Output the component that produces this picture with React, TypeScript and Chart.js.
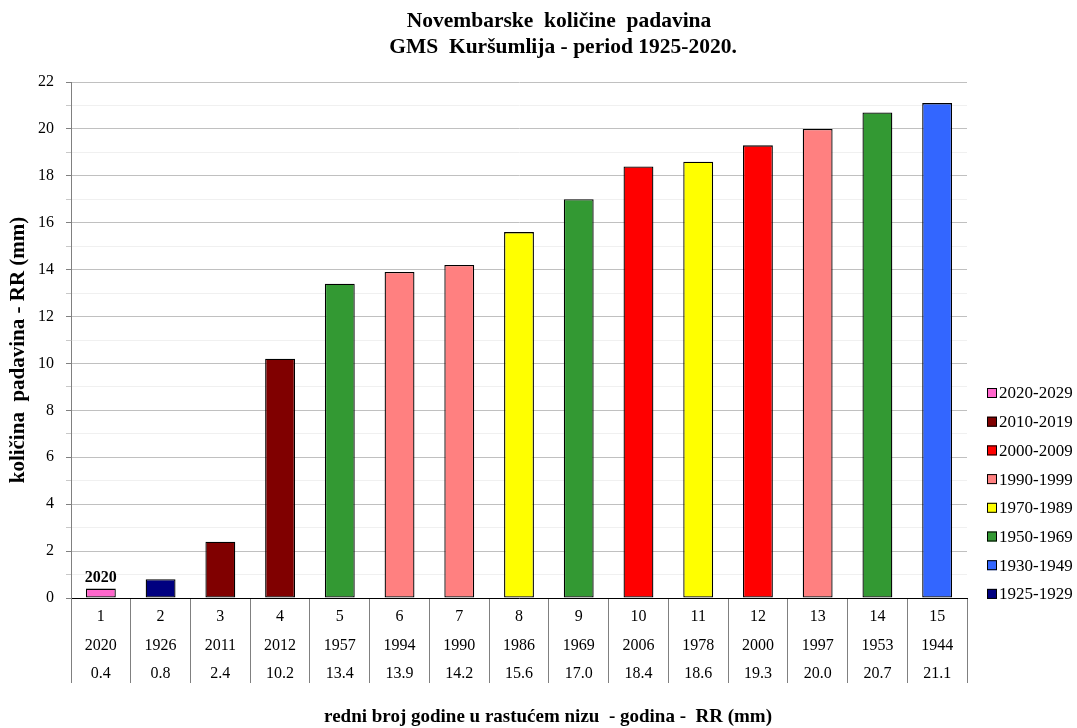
import React, { useEffect, useRef } from 'react';
import { Chart, registerables } from 'chart.js';

Chart.register(...registerables);

const ranks = ['1', '2', '3', '4', '5', '6', '7', '8', '9', '10', '11', '12', '13', '14', '15'];
const years = ['2020', '1926', '2011', '2012', '1957', '1994', '1990', '1986', '1969', '2006', '1978', '2000', '1997', '1953', '1944'];
const values = [0.4, 0.8, 2.4, 10.2, 13.4, 13.9, 14.2, 15.6, 17.0, 18.4, 18.6, 19.3, 20.0, 20.7, 21.1];
const valueLabels = ['0.4', '0.8', '2.4', '10.2', '13.4', '13.9', '14.2', '15.6', '17.0', '18.4', '18.6', '19.3', '20.0', '20.7', '21.1'];
const barGroups = ['2020-2029', '1925-1929', '2010-2019', '2010-2019', '1950-1969', '1990-1999', '1990-1999', '1970-1989', '1950-1969', '2000-2009', '1970-1989', '2000-2009', '1990-1999', '1950-1969', '1930-1949'];
const legendLabels = ['2020-2029', '2010-2019', '2000-2009', '1990-1999', '1970-1989', '1950-1969', '1930-1949', '1925-1929'];
const legendColors = ['#FF66CC', '#800000', '#FF0000', '#FF8080', '#FFFF00', '#339933', '#3366FF', '#000080'];
const titleLines = ['Novembarske  količine  padavina', 'GMS  Kuršumlija - period 1925-2020.'];
const yAxisTitle = 'količina  padavina - RR (mm)';
const xAxisTitle = 'redni broj godine u rastućem nizu  - godina -  RR (mm)';
const highlightLabel = '2020';
const highlightIndex = 0;

const FONT = '"Liberation Serif", "Times New Roman", serif';

export default function App() {
  const ref = useRef<HTMLCanvasElement | null>(null);

  useEffect(() => {
    document.body.style.margin = '0';
    const canvas = ref.current;
    if (!canvas) return;

    const barColors = barGroups.map((g) => legendColors[legendLabels.indexOf(g)]);

    const textPlugin = {
      id: 'texts',
      afterDraw(chart: any) {
        const ctx = chart.ctx;
        ctx.save();
        ctx.fillStyle = '#000';
        ctx.textAlign = 'center';
        ctx.textBaseline = 'middle';
        // title
        ctx.font = `bold 21.5px ${FONT}`;
        ctx.fillText(titleLines[0], 559, 21);
        ctx.fillText(titleLines[1], 563, 47);
        // x axis title
        ctx.font = `bold 19px ${FONT}`;
        ctx.fillText(xAxisTitle, 548, 717);
        // y axis title
        ctx.save();
        ctx.translate(19, 350);
        ctx.rotate(-Math.PI / 2);
        ctx.font = `bold 21px ${FONT}`;
        ctx.fillText(yAxisTitle, 0, 0);
        ctx.restore();
        // highlight label above first bar
        const xs = chart.scales.x;
        const ys = chart.scales.y;
        ctx.font = `bold 16px ${FONT}`;
        ctx.fillText(highlightLabel, xs.getPixelForValue(highlightIndex), ys.getPixelForValue(values[highlightIndex]) - 11);
        // legend
        ctx.font = `17px ${FONT}`;
        ctx.textAlign = 'left';
        const top = 393;
        const step = 28.7;
        legendLabels.forEach((lab, i) => {
          const cy = top + i * step;
          ctx.fillStyle = legendColors[i];
          ctx.fillRect(987, cy - 5, 10, 10);
          ctx.strokeStyle = '#000';
          ctx.lineWidth = 1;
          ctx.strokeRect(987.5, cy - 4.5, 9, 9);
          ctx.fillStyle = '#000';
          ctx.fillText(lab, 999, cy + 1);
        });
        ctx.restore();
      },
    };

    const chart = new Chart(canvas, {
      type: 'bar',
      data: {
        labels: ranks.map((r, i) => [r, years[i], valueLabels[i]]),
        datasets: [
          {
            data: values,
            backgroundColor: barColors,
            borderColor: '#000',
            borderWidth: 1.3,
            borderSkipped: false,
            barPercentage: 0.5,
            categoryPercentage: 1,
          },
        ],
      },
      options: {
        animation: false,
        responsive: false,
        maintainAspectRatio: false,
        layout: { padding: { top: 82, left: 0, right: 110, bottom: 0 } },
        plugins: {
          legend: { display: false },
          title: { display: false },
          tooltip: { enabled: false },
        },
        scales: {
          x: {
            offset: true,
            grid: {
              offset: true,
              drawOnChartArea: false,
              drawTicks: true,
              tickLength: 85,
              tickColor: '#808080',
              lineWidth: 1,
            },
            border: { display: true, color: '#000', width: 1 },
            ticks: {
              autoSkip: false,
              maxRotation: 0,
              padding: -80,
              color: '#000',
              font: { family: FONT, size: 16, lineHeight: 1.78 },
            },
            afterFit(scale: any) {
              scale.height = 130;
            },
          },
          y: {
            min: 0,
            max: 22,
            ticks: {
              stepSize: 1,
              padding: 12,
              color: '#000',
              font: { family: FONT, size: 16 },
              callback: (v: any) => (Number(v) % 2 === 0 ? String(v) : ''),
            },
            grid: {
              color: (c: any) => (c.tick && c.tick.value % 2 === 0 ? '#c0c0c0' : '#f0f0f0'),
              tickColor: (c: any) => (c.tick && c.tick.value % 2 === 0 ? '#808080' : '#c8c8c8'),
              tickLength: 5,
              lineWidth: 1,
            },
            border: { display: true, color: '#808080', width: 1 },
            afterFit(scale: any) {
              scale.width = 71;
            },
          },
        },
      },
      plugins: [textPlugin],
    });

    return () => chart.destroy();
  }, []);

  return (
    <div style={{ width: 1077, height: 728 }}>
      <canvas ref={ref} width={1077} height={728} style={{ display: 'block' }} />
    </div>
  );
}
